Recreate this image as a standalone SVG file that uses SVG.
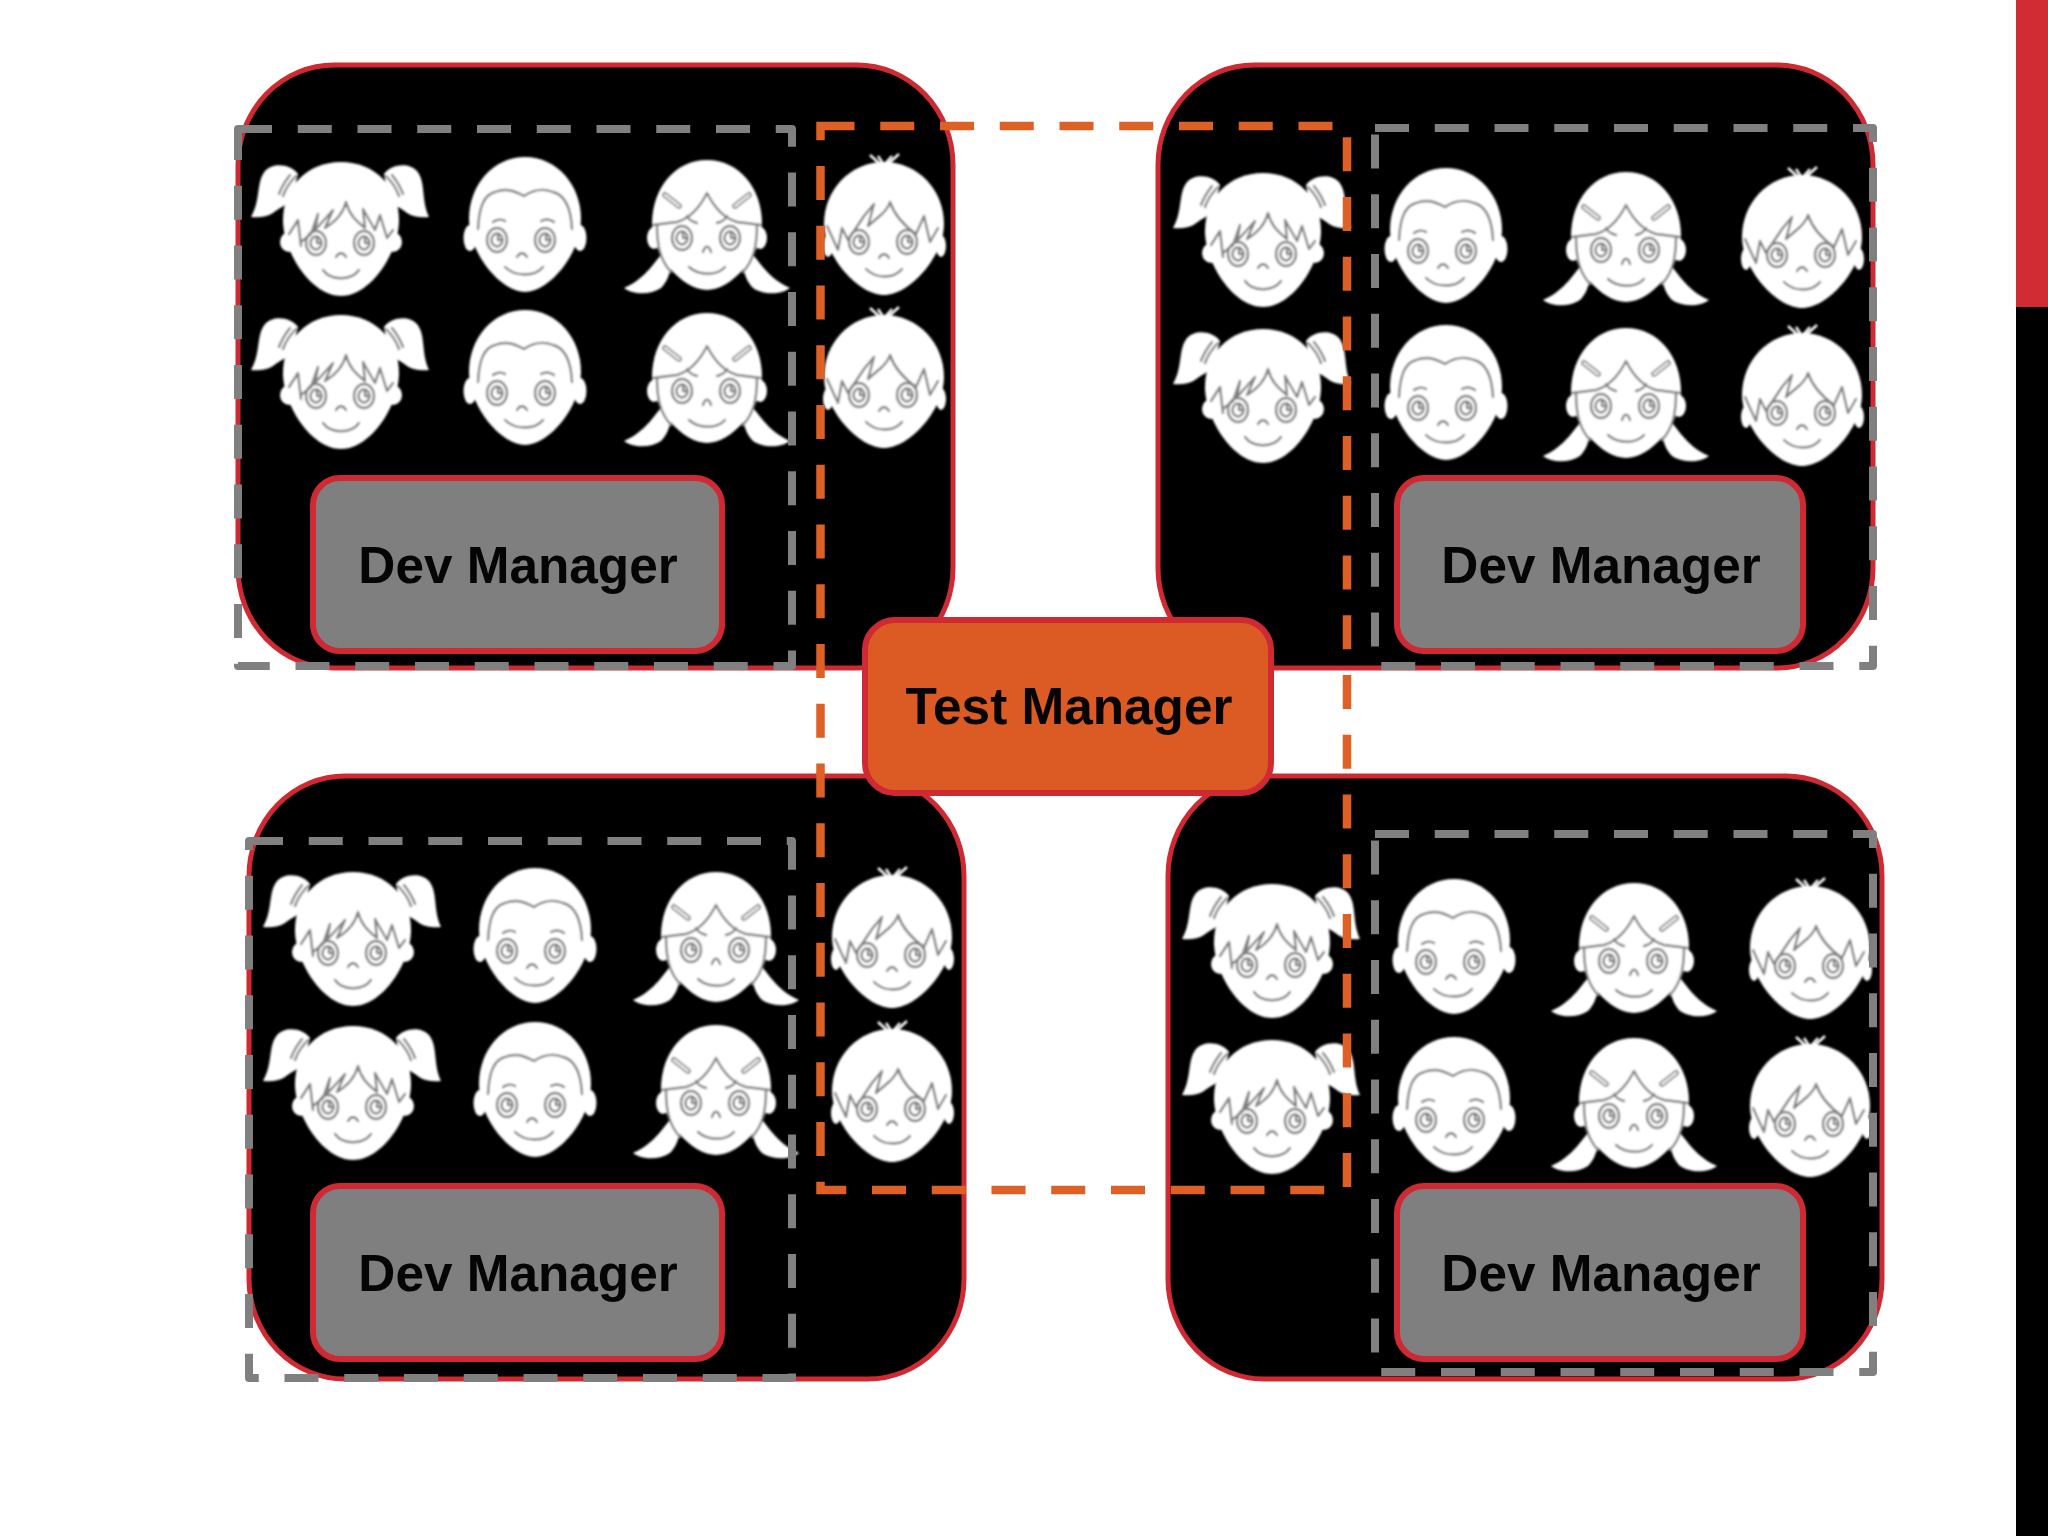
<svg xmlns="http://www.w3.org/2000/svg" xmlns:xlink="http://www.w3.org/1999/xlink" width="2048" height="1536" viewBox="0 0 2048 1536">
<style>
.panel{fill:#000;stroke:#CF2A33;stroke-width:5}
.dev{fill:#7F7F7F;stroke:#CF2A33;stroke-width:6}
.test{fill:#DC5B24;stroke:#CF2A33;stroke-width:6}
.lbl{font-family:"Liberation Sans",Arial,sans-serif;font-weight:700;font-size:51.3px;fill:#050505;text-anchor:middle}
.gd{fill:none;stroke:#808080;stroke-width:8;stroke-dasharray:34 25.75;stroke-linejoin:round}
.od{fill:none;stroke:#DE6025;stroke-width:8.5;stroke-dasharray:34 25.75}
.w{fill:#fff;stroke:none}
.f{fill:none;stroke:#808080;stroke-width:2.4;stroke-linecap:round;stroke-linejoin:round}
.faces{filter:url(#soft)}
</style>
<defs>
<filter id="soft" x="-5%" y="-5%" width="110%" height="110%"><feGaussianBlur stdDeviation="0.9"/></filter>
<g id="eyes">
<ellipse class="f" cx="-25" cy="81" rx="10" ry="12"/><ellipse class="f" cx="23" cy="81" rx="10" ry="12"/>
<ellipse class="f" cx="-25" cy="81" rx="5.5" ry="6.5"/><ellipse class="f" cx="23" cy="81" rx="5.5" ry="6.5"/>
<path class="f" d="M-24,76V81H-20M24,76V81H28"/>
</g>
<g id="pigtail">
<path class="w" d="M-43,12C-50,2-68,0-76,9C-85,20-80,38-90,55C-82,56-74,55-68,51C-62,46-56,44-50,38Z"/>
<path class="w" d="M43,12C50,2 68,0 76,9C85,20 80,38 88,55C80,56 72,55 66,51C60,46 54,44 48,38Z"/>
<path class="f" d="M-45,14C-51,20-56,28-58,34M-51,13C-55,18-59,24-62,32M45,14C51,20 56,28 58,34M51,13C55,18 59,24 62,32"/>
<ellipse class="w" cx="-52" cy="80" rx="9" ry="10"/><ellipse class="w" cx="52" cy="80" rx="9" ry="10"/>
<path class="w" d="M0,0C34,0 58,25 58,58C58,90 30,134 0,134C-30,134-58,90-58,58C-58,25-34,0 0,0Z"/>
<path class="f" d="M-52,72L-43,58L-40,84M-40,80L-30,72L-23,52L-26,68L-8,48L-16,66C-6,60 2,52 5,40C8,52 14,58 24,66L22,47L34,68L39,53L46,76L52,68"/>
<use href="#eyes"/>
<path class="f" d="M-5,95C-2,90 2,90 5,95M-18,108C-10,119 10,119 18,108"/>
</g>
<g id="boy">
<ellipse class="w" cx="-55" cy="81" rx="6.5" ry="13"/><ellipse class="w" cx="55" cy="81" rx="6.5" ry="13"/>
<path class="w" d="M0,0C32,0 56,28 56,62C56,97 24,135 0,135C-24,135-56,97-56,62C-56,28-32,0 0,0Z"/>
<path class="f" d="M-47,72C-46,52-42,38-30,35C-20,31-12,33-1,39C8,33 18,31 28,35C40,38 46,52 47,72"/>
<path class="f" d="M-32,65C-28,62-23,62-20,64M16,64C20,62 25,62 29,65"/>
<use href="#eyes" transform="translate(-3,2)"/>
<path class="f" d="M-8,100C-5,95-1,95 2,100M-20,110C-10,120 10,120 18,110"/>
</g>
<g id="clip">
<path class="w" d="M-44,93C-52,100-60,118-83,128C-74,135-56,135-46,128C-40,122-38,115-36,108Z"/>
<path class="w" d="M44,93C52,100 60,118 83,128C74,135 56,135 46,128C40,122 38,115 36,108Z"/>
<ellipse class="w" cx="-53" cy="78" rx="7" ry="11"/><ellipse class="w" cx="53" cy="78" rx="7" ry="11"/>
<path class="w" d="M0,0C32,0 55,28 55,64C55,96 24,130 0,130C-24,130-55,96-55,64C-55,28-32,0 0,0Z"/>
<path class="f" d="M-54,65L-30,62C-16,58-6,45 0,33C6,45 16,58 30,62L54,65M-50,65C-50,85-47,100-36,112M50,65C50,85 47,100 36,112M-20,56C-18,60-14,62-10,63M20,56C18,60 14,62 10,63"/>
<path d="M-42,35L-28,46M42,35L28,46" stroke="#8a8a8a" stroke-width="6" stroke-linecap="round" fill="none"/>
<path d="M-42,35L-28,46M42,35L28,46" stroke="#eee" stroke-width="2.5" stroke-linecap="round" fill="none"/>
<use href="#eyes" transform="translate(0,-3)"/>
<path class="f" d="M-4,92C-2,85 2,85 4,92M-18,107C-8,116 10,116 18,107"/>
</g>
<g id="spiky">
<path d="M-14,1L-3,11M15,0L3,11M-6,2L0,11M8,2L0,11" stroke="#fff" stroke-width="2.5" fill="none"/>
<ellipse class="w" cx="-56" cy="92" rx="5" ry="11"/><ellipse class="w" cx="57" cy="92" rx="5" ry="11"/>
<path class="w" d="M0,8C34,8 60,36 60,70C60,102 26,141 0,141C-26,141-60,102-60,70C-60,36-34,8 0,8Z"/>
<path class="f" d="M-57,72L-46,96L-42,74L-36,86L-20,62L-10,50L-16,72L-2,60C2,56 5,52 6,48C10,60 18,70 32,80L40,62L46,88L54,74"/>
<use href="#eyes" transform="translate(0,7)"/>
<path class="f" d="M-5,104C-2,99 2,99 5,104M-18,115C-8,125 10,125 18,115"/>
</g>
</defs>
<rect width="2048" height="1536" fill="#fff"/>
<rect x="2016" y="0" width="32" height="307" fill="#D12B34"/>
<rect x="2016" y="307" width="32" height="1229" fill="#000"/>

<g id="team-top-left">
<rect class="panel" x="238" y="65" width="715" height="603" rx="96" ry="100"/>
<g class="faces">
<use href="#pigtail" x="341" y="162"/><use href="#boy" x="525" y="157"/><use href="#clip" x="707" y="160"/><use href="#spiky" x="884" y="154"/>
<use href="#pigtail" x="341" y="315"/><use href="#boy" x="525" y="310"/><use href="#clip" x="707" y="313"/><use href="#spiky" x="884" y="307"/>
</g>
</g>
<g id="team-top-right">
<rect class="panel" x="1158" y="65" width="715" height="603" rx="96" ry="100"/>
<g class="faces">
<use href="#pigtail" x="1263" y="173"/><use href="#boy" x="1446" y="168"/><use href="#clip" x="1626" y="172"/><use href="#spiky" x="1802" y="167"/>
<use href="#pigtail" x="1263" y="329"/><use href="#boy" x="1446" y="325"/><use href="#clip" x="1626" y="328"/><use href="#spiky" x="1802" y="325"/>
</g>
</g>
<g id="team-bottom-left">
<rect class="panel" x="249" y="776" width="715" height="603" rx="96" ry="100"/>
<g class="faces">
<use href="#pigtail" x="353" y="872"/><use href="#boy" x="535" y="868"/><use href="#clip" x="716" y="872"/><use href="#spiky" x="892" y="867"/>
<use href="#pigtail" x="353" y="1026"/><use href="#boy" x="535" y="1022"/><use href="#clip" x="716" y="1025"/><use href="#spiky" x="892" y="1021"/>
</g>
</g>
<g id="team-bottom-right">
<rect class="panel" x="1168" y="776" width="714" height="603" rx="96" ry="100"/>
<g class="faces">
<use href="#pigtail" x="1272" y="884"/><use href="#boy" x="1454" y="879"/><use href="#clip" x="1634" y="883"/><use href="#spiky" x="1810" y="878"/>
<use href="#pigtail" x="1272" y="1040"/><use href="#boy" x="1454" y="1037"/><use href="#clip" x="1634" y="1038"/><use href="#spiky" x="1810" y="1036"/>
</g>
</g>
<g id="dev-manager-top-left"><rect class="dev" x="313" y="478" width="409" height="173" rx="27"/><text class="lbl" x="518" y="583">Dev Manager</text></g>
<g id="dev-manager-top-right"><rect class="dev" x="1397" y="478" width="406" height="173" rx="27"/><text class="lbl" x="1601" y="583">Dev Manager</text></g>
<g id="dev-manager-bottom-left"><rect class="dev" x="313" y="1186" width="409" height="173" rx="27"/><text class="lbl" x="518" y="1291">Dev Manager</text></g>
<g id="dev-manager-bottom-right"><rect class="dev" x="1397" y="1186" width="406" height="173" rx="27"/><text class="lbl" x="1601" y="1291">Dev Manager</text></g>

<g id="connectors">
<rect class="gd" x="238" y="129" width="554" height="537"/>
<rect class="gd" x="1375" y="128" width="498" height="538"/>
<rect class="gd" x="249" y="841" width="543" height="537"/>
<rect class="gd" x="1375" y="834" width="498" height="538"/>
<rect class="od" x="820.5" y="126" width="526.5" height="1064"/>
</g>
<g id="test-manager"><rect class="test" x="865" y="620" width="406" height="173" rx="30"/><text class="lbl" x="1069" y="724">Test Manager</text></g>
</svg>
